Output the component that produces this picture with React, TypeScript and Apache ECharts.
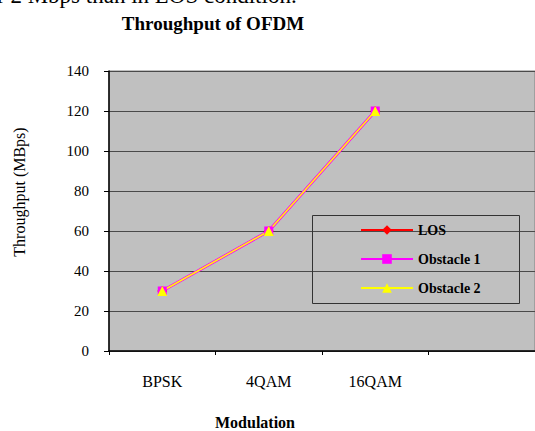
import React, { useEffect, useRef } from "react";
import * as echarts from "echarts";

const categories = ["BPSK", "4QAM", "16QAM", ""];
const losValues = [30, 60, 120];
const obstacle1Values = [30, 60, 120];
const obstacle2Values = [30, 60, 120];
const yTicks = [0, 20, 40, 60, 80, 100, 120, 140];

const FONT = "Liberation Serif";

export default function App() {
  const ref = useRef<HTMLDivElement>(null);
  useEffect(() => {
    document.body.style.margin = "0";
    document.body.style.overflow = "hidden";
    if (!ref.current) return;
    const chart = echarts.init(ref.current, undefined, { renderer: "svg" });
    chart.setOption({
      animation: false,
      backgroundColor: "#ffffff",
      textStyle: { fontFamily: FONT },
      grid: {
        left: 109,
        top: 71,
        bottom: 80,
        right: -4,
        show: true,
        backgroundColor: "#c0c0c0",
        borderColor: "#808080",
        borderWidth: 1,
      },
      xAxis: {
        type: "category",
        data: categories,
        boundaryGap: true,
        axisLine: { lineStyle: { color: "#000", width: 1.5 } },
        axisTick: { show: true, length: 4, lineStyle: { color: "#000" } },
        axisLabel: { color: "#000", fontSize: 16, fontFamily: FONT, margin: 22 },
        splitLine: { show: false },
      },
      yAxis: {
        type: "value",
        min: yTicks[0],
        max: yTicks[yTicks.length - 1],
        interval: 20,
        axisLine: { show: true, lineStyle: { color: "#000", width: 1.5 } },
        axisTick: { show: true, length: 5, lineStyle: { color: "#000" } },
        axisLabel: { color: "#000", fontSize: 15, fontFamily: FONT, margin: 20 },
        splitLine: { show: true, lineStyle: { color: "#4a4a4a", width: 1 } },
      },
      legend: {
        orient: "vertical",
        left: 355,
        top: 218,
        itemWidth: 52,
        itemHeight: 12,
        itemGap: 15,
        textStyle: { fontFamily: FONT, fontSize: 14, fontWeight: "bold", color: "#000" },
        data: ["LOS", "Obstacle 1", "Obstacle 2"],
      },
      series: [
        {
          name: "LOS",
          type: "line",
          data: losValues,
          symbol: "diamond",
          symbolSize: 10,
          lineStyle: { color: "#ff0000", width: 2 },
          itemStyle: { color: "#ff0000" },
        },
        {
          name: "Obstacle 1",
          type: "line",
          data: obstacle1Values,
          symbol: "rect",
          symbolSize: 9,
          lineStyle: { color: "#ff00ff", width: 3 },
          itemStyle: { color: "#ff00ff" },
        },
        {
          name: "Obstacle 2",
          type: "line",
          data: obstacle2Values,
          symbol: "triangle",
          symbolSize: 10,
          lineStyle: { color: "#ffff00", width: 1.5 },
          itemStyle: { color: "#ffff00" },
        },
      ],
      graphic: [
        {
          type: "text",
          x: -3,
          y: 7,
          style: {
            text: "r 2 Mbps than in LOS condition.",
            font: `23px '${FONT}'`,
            fill: "#000",
            textVerticalAlign: "bottom",
          },
        },
        {
          type: "text",
          x: 213,
          y: 23,
          style: {
            text: "Throughput of OFDM",
            font: `bold 19px '${FONT}'`,
            fill: "#000",
            textAlign: "center",
            textVerticalAlign: "middle",
          },
        },
        {
          type: "text",
          x: 19,
          y: 192,
          rotation: Math.PI / 2,
          style: {
            text: "Throughput (MBps)",
            font: `16px '${FONT}'`,
            fill: "#000",
            textAlign: "center",
            textVerticalAlign: "middle",
          },
        },
        {
          type: "text",
          x: 255,
          y: 422,
          style: {
            text: "Modulation",
            font: `bold 16px '${FONT}'`,
            fill: "#000",
            textAlign: "center",
            textVerticalAlign: "middle",
          },
        },
        {
          type: "rect",
          shape: { x: 312.5, y: 215.5, width: 207, height: 88 },
          style: { fill: "none", stroke: "#333", lineWidth: 1 },
          z: 100,
        },
      ],
    });
    return () => chart.dispose();
  }, []);
  return <div ref={ref} style={{ width: 535, height: 431 }} />;
}
